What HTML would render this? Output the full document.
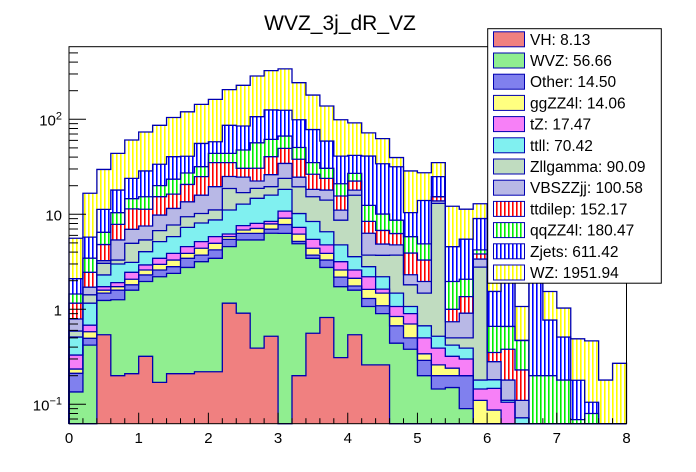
<!DOCTYPE html>
<html><head><meta charset="utf-8"><style>
html,body{margin:0;padding:0;background:#fff;}
svg{display:block;font-family:"Liberation Sans",sans-serif;}
</style></head><body>
<svg id="chart" width="696" height="472" viewBox="0 0 696 472" xmlns="http://www.w3.org/2000/svg">
<defs id="defs"></defs>
<rect x="0" y="0" width="696" height="472" fill="#fff"/>
<text x="340" y="30" font-size="21" text-anchor="middle" fill="#000">WVZ_3j_dR_VZ</text>
<g id="plot"></g>
<g id="axes"></g>
<g id="legend"></g>
</svg>
<script>
const xEdgesMin = 0, xEdgesMax = 8, nBins = 40;
const seriesNames = ["VH","WVZ","Other","ggZZ4l","tZ","ttll","Zllgamma","VBSZZjj","ttdilep","qqZZ4l","Zjets","WZ"];
const legendTotals = ["8.13","56.66","14.50","14.06","17.47","70.42","90.09","100.58","152.17","180.47","611.42","1951.94"];
const vhVals = [0,0,.54,.2,.21,.32,.17,.21,.21,.22,.22,1.16,.91,.39,.52,0,.2,.56,.82,.31,.54,.26,.26,0,0,0,0,0,0,0,0,0,0,0,0,0,0,0,0,0];
const wvzVals = [.135,.42,.70,1.06,1.38,1.64,2.03,2.18,2.55,2.95,3.22,3.41,4.46,4.98,5.8,6.3,4.7,2.88,1.94,1.42,1.05,.81,.64,.44,.38,.2,.145,.15,.09,0,0,0,0,0,0,0,0,0,0,0];
const otherVals = [.077,.075,.24,.33,.22,.34,.39,.42,.68,.55,.78,.88,.93,.93,.65,1.5,.28,.28,.54,.45,.17,.23,.19,.23,.12,.09,.055,.05,.11,0,0,0,0,0,0,0,0,0,0,0];
const ggzzVals = [.023,.085,.11,.14,.26,.29,.38,.49,.44,.67,.73,.37,.54,.8,.95,1.3,1.0,.67,.58,.41,.36,.32,.39,.17,.2,.05,.06,.04,0,.11,.087,0,0,0,0,0,0,0,0,0];
const tzVals = [.095,.10,.14,.18,.38,.34,.47,.58,.69,.77,.87,.38,.76,.93,.5,1.7,1.1,1.06,.89,.58,.47,.58,.15,.23,.2,.16,.13,.08,.1,.035,.06,.105,0,0,0,0,0,0,0,0];
const ttllVals = [.18,.48,.57,1.09,.67,1.11,1.72,1.94,2.72,2.94,2.9,4.9,5.2,6.7,7.5,7.5,2.9,2.95,1.78,1.6,.99,.61,.57,.41,.17,.17,.13,.1,.09,.035,.034,.005,.072,0,0,0,0,0,0,0];
const zllgVals = [.08,.26,.75,.3,1.83,1.33,1.57,1.9,2.14,2.1,2.4,7.6,4.1,4.0,3.6,5.6,9.3,6.9,7.55,3.9,12.3,.91,1.5,2.24,.74,.81,12.5,.08,.11,2.6,0,0,0,0,0,0,0,0,0,0];
const vbsVals = [.2,.29,.2,2.07,2.0,2.16,3.09,3.8,4.1,5.7,8.4,6.3,7.7,3.7,6.6,10.4,5.1,3.0,3.9,2.4,2.1,2.6,1.16,1.05,.5,.48,.8,.24,.41,.6,.1,.07,.038,0,0,0,0,0,0,0];
const ttdilepVals = [.37,.74,1.55,2.47,4.45,3.77,5.5,4.8,7.1,9.0,15.5,10,5.9,8.1,14.3,15.1,13.4,8.1,5.9,4.5,4.4,2.1,1.9,1.5,1.6,1.34,1.5,.26,.45,.44,.07,.2,.12,0,0,0,0,0,0,0];
const qqzzVals = [.29,1.0,1.66,2.56,3.2,4.0,4.7,7.1,6.6,6.8,8.8,8.8,17,26,21,17.2,12.5,8.6,6.6,5.4,4.6,4.0,3.3,2.4,1.9,1.58,0,.96,.71,.4,.31,.28,.24,.2,.2,.18,.069,.08,0,0];
const zjetsVals = [.65,2.3,4.8,7.6,9.3,13.3,13.6,17,13.6,24,14.2,42.6,37.5,50,64,58,48.5,43,28.5,20,14.7,28.6,24,23,4.6,9.1,9.6,2.6,3.4,4.8,.88,2.2,0,2.4,.57,.33,.11,.025,0,0];
const wzVals = [3.5,10.9,18.4,25.8,36.6,44.9,52.8,64,79,88,104,119,143,179,200,215,144,102,79,58,50,31,28.5,7.9,18.2,13.4,10.1,7.6,5.85,3.9,5.4,2.6,.6,1.1,.77,.52,.31,.36,.18,.27];
const xTickLabels = ["0","1","2","3","4","5","6","7","8"];

const NS = "http://www.w3.org/2000/svg";
const X0 = 69, X1 = 626.5, YB = 423.7, YT = 46.7;
function xpx(v){ return X0 + (v - xEdgesMin) / (xEdgesMax - xEdgesMin) * (X1 - X0); }
function ypx(v){ if (v <= 0) return YB; let y = 309.3 - 95 * Math.log10(v); return Math.max(YT, Math.min(YB, y)); }
function mk(tag, attrs, parent){ const e = document.createElementNS(NS, tag); for (const k in attrs) e.setAttribute(k, attrs[k]); parent.appendChild(e); return e; }

const allVals = [vhVals,wvzVals,otherVals,ggzzVals,tzVals,ttllVals,zllgVals,vbsVals,ttdilepVals,qqzzVals,zjetsVals,wzVals];
// checker fills rendered as their average tone; vertical hatches as patterns
const styles = [["s","#f08080"],["s","#90ee90"],["s","#8080ee"],["s","#ffff80"],["s","#f780f7"],["s","#80f0f0"],["s","#c0dcc0"],["s","#b8b8e6"],["v","#ff0000"],["v","#00ee00"],["v","#0000ff"],["v","#ffff00"]];
const defs = document.getElementById("defs");
styles.forEach((s, i) => {
  if (s[0] !== "v") return;
  const p = mk("pattern", {id: "pat" + i, patternUnits: "userSpaceOnUse", width: 4, height: 2}, defs);
  mk("rect", {width: 4, height: 2, fill: "#fff"}, p);
  mk("rect", {x: 0, y: 0, width: 1.6, height: 2, fill: s[1]}, p);
});
function fillOf(i){ return styles[i][0] === "v" ? "url(#pat" + i + ")" : styles[i][1]; }

const plot = document.getElementById("plot");
const cum = [];
let run = new Array(nBins).fill(0);
allVals.forEach((vals) => { run = run.map((r, b) => r + vals[b]); cum.push(run.slice()); });
const bw = (xEdgesMax - xEdgesMin) / nBins;
allVals.forEach((vals, k) => {
  const g = mk("g", {}, plot);
  
  
  for (let b = 0; b < nBins; b++) {
    const top = cum[k][b], bot = k === 0 ? 0 : cum[k-1][b];
    const yt = ypx(top), yb = ypx(bot);
    if (yb - yt < 0.01) continue;
    const r = mk("rect", {x: xpx(b*bw), y: yt, width: xpx((b+1)*bw) - xpx(b*bw), height: yb - yt, fill: fillOf(k), "shape-rendering": "crispEdges"}, g);
    
    
  }
});
cum.forEach((c, k) => {
  let d = "M" + xpx(0) + "," + YB;
  for (let b = 0; b < nBins; b++) { const y = ypx(c[b]); d += " L" + xpx(b*bw) + "," + y + " L" + xpx((b+1)*bw) + "," + y; }
  d += " L" + xpx(8) + "," + YB;
  const p = mk("path", {d: d, fill: "none", stroke: "#0000b0", "stroke-width": 1.3}, plot);
  
  
});

const ax = document.getElementById("axes");
const frame = mk("rect", {x: X0, y: YT, width: X1 - X0, height: YB - YT, fill: "none", stroke: "#000", "stroke-width": 1}, ax);


for (let i = 0; i <= 40; i++) {
  const x = xpx(i * 0.2), major = i % 5 === 0;
  mk("line", {x1: x, x2: x, y1: YB, y2: YB - (major ? 11 : 5.5), stroke: "#000", "stroke-width": 1}, ax);
}
xTickLabels.forEach((t, i) => {
  const e = mk("text", {x: xpx(i), y: 443, "font-size": 15, "text-anchor": "middle"}, ax);
  e.textContent = t;
  
  
});
for (let dec = -2; dec <= 2; dec++) {
  for (let m = 1; m <= 9; m++) {
    const v = m * Math.pow(10, dec), y = ypx(v);
    if (y >= YB || y <= YT) continue;
    mk("line", {x1: X0, x2: X0 + (m === 1 ? 17 : 9), y1: y, y2: y, stroke: "#000", "stroke-width": 1}, ax);
  }
}
const yl = [[0.1,"10","−1"],[1,"1",""],[10,"10",""],[100,"10","2"]];
yl.forEach(l => {
  const e = mk("text", {x: 62, y: ypx(l[0]) + 6, "font-size": 15, "text-anchor": "end"}, ax);
  
  
  e.appendChild(document.createTextNode(l[1]));
  if (l[2]) { const s = mk("tspan", {dy: -6, "font-size": 11}, e); s.textContent = l[2]; }
});

const lg = document.getElementById("legend");
const box = mk("rect", {x: 487.7, y: 28.7, width: 173.6, height: 254.5, fill: "#fff", stroke: "#000", "stroke-width": 1}, lg);


seriesNames.forEach((n, i) => {
  const cy = 28.7 + 21.2 * (i + 0.5);
  const g = mk("g", {}, lg);
  
  
  mk("rect", {x: 493.5, y: cy - 7.5, width: 31, height: 15, fill: fillOf(i), stroke: "#0000b0", "stroke-width": 1}, g);
  const t = mk("text", {x: 530, y: cy + 5.5, "font-size": 15.5}, g);
  t.textContent = n + ": " + legendTotals[i];
});
</script>
</body></html>
